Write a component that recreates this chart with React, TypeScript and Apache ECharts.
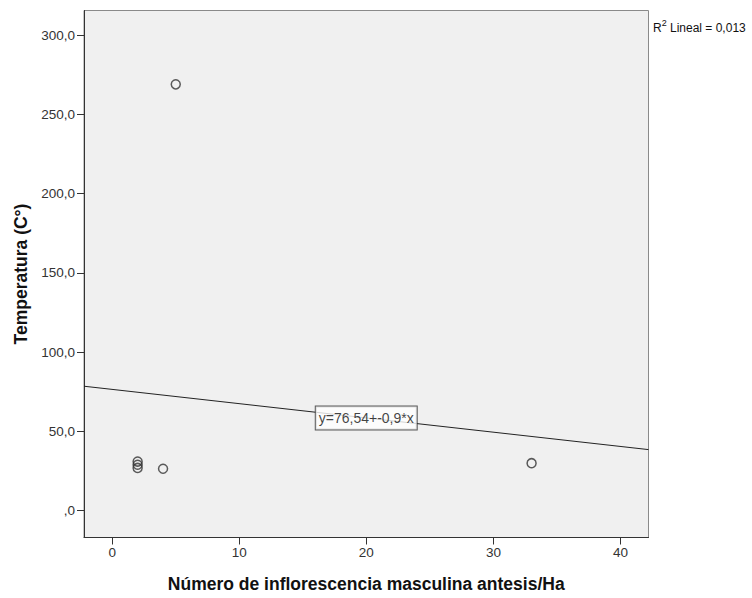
import React, { useEffect, useRef } from "react";
import * as echarts from "echarts";

const pointsX: number[] = [2, 2, 2, 4, 5, 33];
const pointsY: number[] = [31, 29, 27, 26.5, 269, 30];
const xTicks: number[] = [0, 10, 20, 30, 40];
const yTicks: number[] = [0, 50, 100, 150, 200, 250, 300];
const fitIntercept = 76.54;
const fitSlope = -0.9;
const fitLabel = "y=76,54+-0,9*x";
const r2Text = "Lineal = 0,013";
const xTitle = "Número de inflorescencia masculina antesis/Ha";
const yTitle = "Temperatura (C°)";

const X_MIN = -2.22;
const X_MAX = 42.2;
const Y_MIN = -16.9;
const Y_MAX = 315.6;

const FONT = "'Liberation Sans', Arial, sans-serif";

export default function App() {
  const ref = useRef<HTMLDivElement>(null);
  useEffect(() => {
    if (!ref.current) return;
    const chart = echarts.init(ref.current, null, { renderer: "svg" });
    const fitLine = [
      [X_MIN, fitIntercept + fitSlope * X_MIN],
      [X_MAX, fitIntercept + fitSlope * X_MAX],
    ];
    const labelX = (X_MIN + X_MAX) / 2;
    chart.setOption({
      animation: false,
      backgroundColor: "#ffffff",
      textStyle: { fontFamily: FONT },
      grid: {
        left: 84,
        top: 10.5,
        right: 103.5,
        bottom: 60.5,
        show: true,
        backgroundColor: "#f0f0f0",
        borderColor: "#8a8a8a",
        borderWidth: 1,
      },
      title: {
        left: 648,
        top: 13,
        text: "{a|R}{s|2}{a| " + r2Text + "}",
        textStyle: {
          fontWeight: "normal",
          rich: {
            a: { fontSize: 12, color: "#111", fontFamily: FONT, fontWeight: "normal", lineHeight: 16, verticalAlign: "bottom" },
            s: { fontSize: 9, color: "#111", fontFamily: FONT, fontWeight: "normal", lineHeight: 16, verticalAlign: "top" },
          },
        },
      },
      xAxis: {
        type: "value",
        min: X_MIN,
        max: X_MAX,
        name: xTitle,
        nameLocation: "middle",
        nameGap: 37,
        nameTextStyle: { fontSize: 17.5, fontWeight: "bold", color: "#111", fontFamily: FONT },
        axisLine: { show: true, onZero: false, lineStyle: { color: "#333", width: 1 } },
        axisTick: { show: true, length: 7, customValues: xTicks, lineStyle: { color: "#333" } },
        axisLabel: {
          customValues: xTicks,
          fontSize: 13.5,
          color: "#333",
          margin: 8,
          fontFamily: FONT,
        },
        splitLine: { show: false },
      },
      yAxis: {
        type: "value",
        min: Y_MIN,
        max: Y_MAX,
        name: yTitle,
        nameLocation: "middle",
        nameGap: 52,
        nameTextStyle: { fontSize: 17.5, fontWeight: "bold", color: "#111", fontFamily: FONT },
        axisLine: { show: true, onZero: false, lineStyle: { color: "#333", width: 1 } },
        axisTick: { show: true, length: 7, customValues: yTicks, lineStyle: { color: "#333" } },
        axisLabel: {
          customValues: yTicks,
          fontSize: 13.5,
          color: "#333",
          margin: 9,
          fontFamily: FONT,
          formatter: (v: number) => (v === 0 ? ",0" : v.toFixed(1).replace(".", ",")),
        },
        splitLine: { show: false },
      },
      series: [
        {
          type: "line",
          data: fitLine,
          symbol: "none",
          lineStyle: { color: "#222", width: 1 },
          z: 2,
        },
        {
          type: "scatter",
          data: pointsX.map((x, i) => [x, pointsY[i]]),
          symbol: "circle",
          symbolSize: 9,
          itemStyle: { color: "rgba(0,0,0,0)", borderColor: "#333", borderWidth: 1.5 },
          z: 3,
        },
        {
          type: "scatter",
          data: [[labelX, fitIntercept + fitSlope * labelX]],
          symbol: "circle",
          symbolSize: 1,
          itemStyle: { color: "rgba(0,0,0,0)" },
          label: {
            show: true,
            position: "inside",
            formatter: fitLabel,
            fontSize: 14,
            color: "#111",
            fontFamily: FONT,
            backgroundColor: "#ffffff",
            borderColor: "#333",
            borderWidth: 1,
            padding: [5, 3, 4, 3],
          },
          z: 4,
        },
      ],
    });
    return () => chart.dispose();
  }, []);
  return <div ref={ref} style={{ width: 752, height: 598, position: "absolute", left: 0, top: 0 }} />;
}
